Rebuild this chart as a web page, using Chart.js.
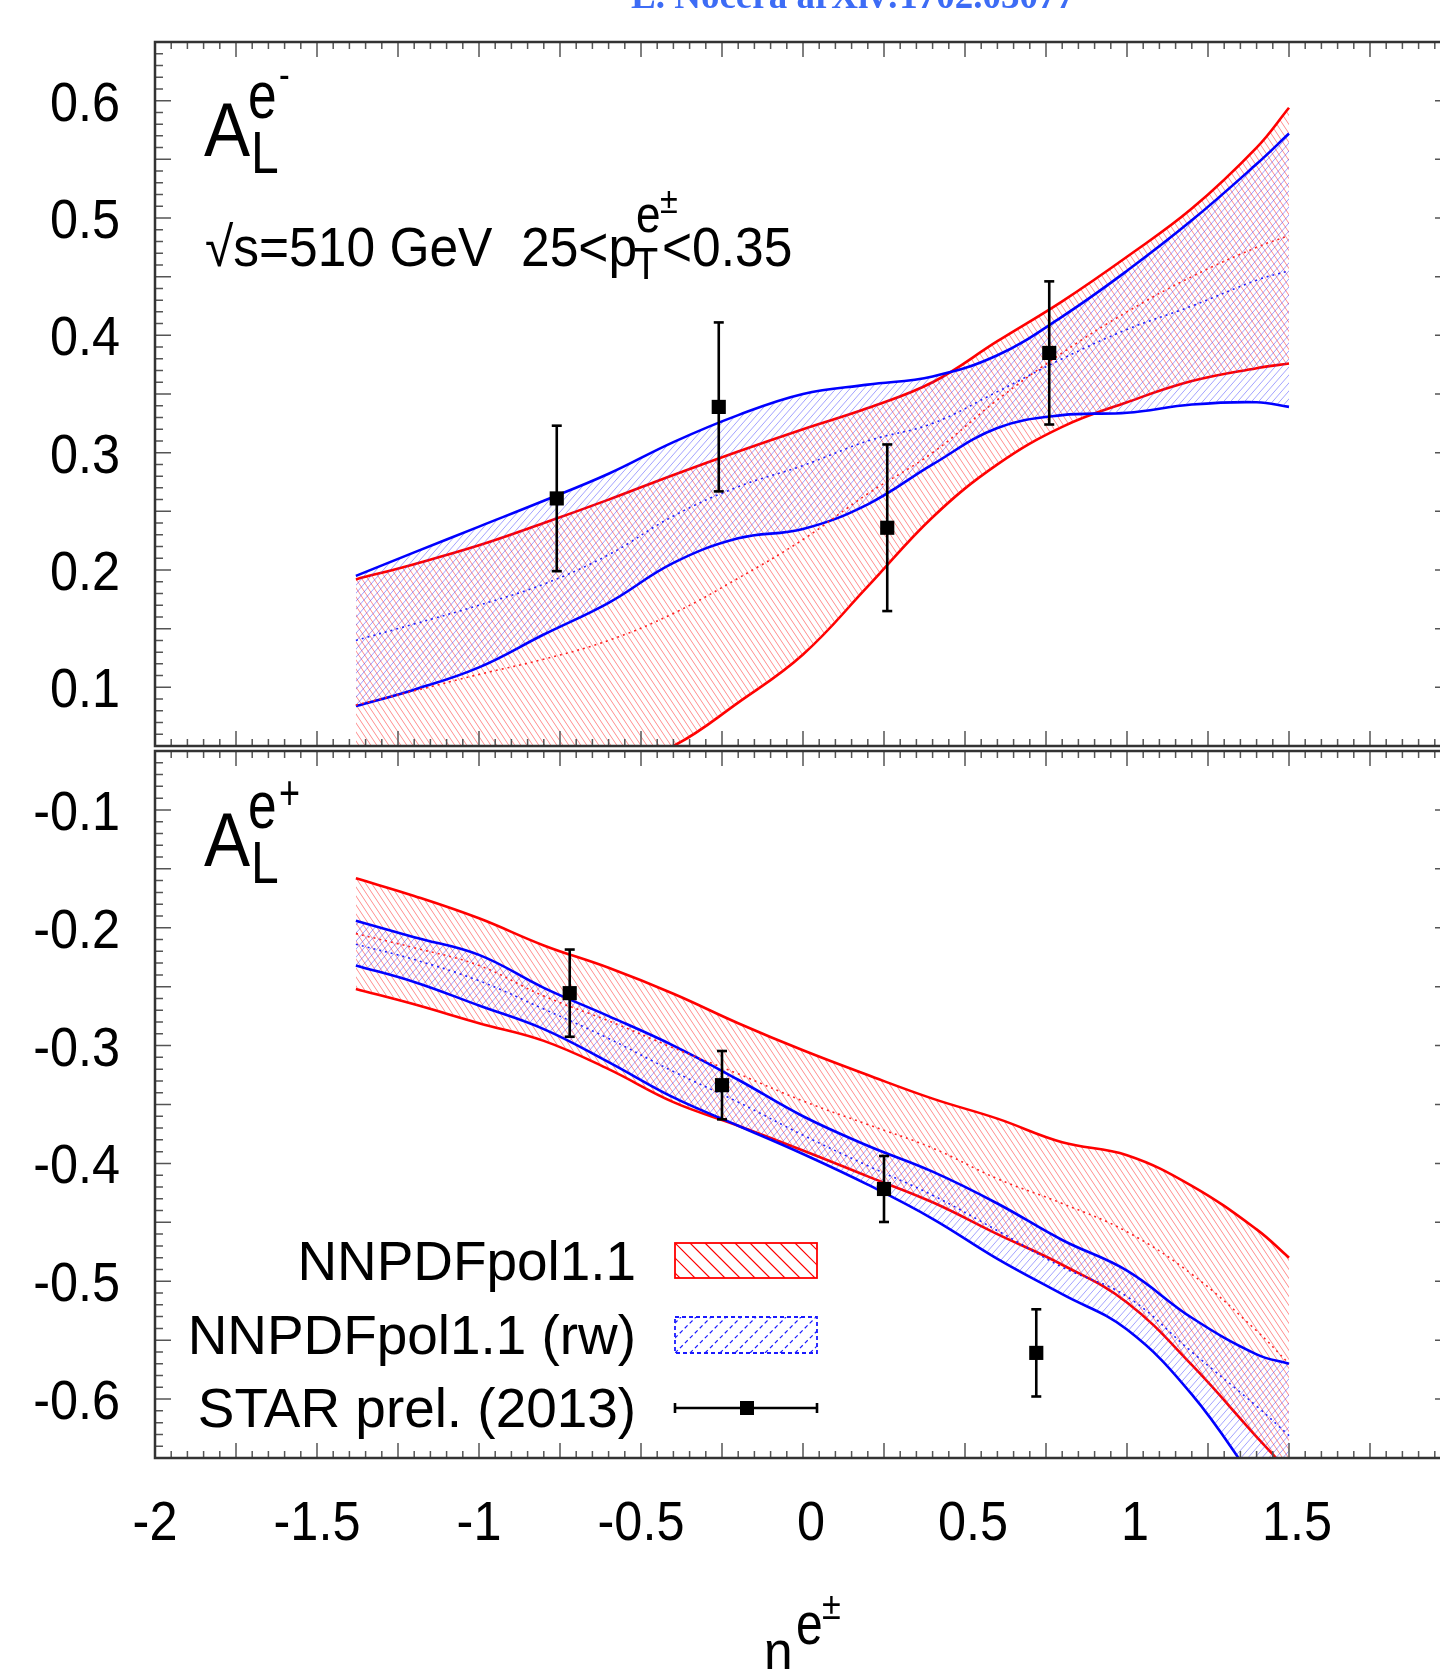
<!DOCTYPE html>
<html>
<head>
<meta charset="utf-8">
<script src="https://cdn.jsdelivr.net/npm/chart.js@4.4.1/dist/chart.umd.min.js"></script>
<style>
  html, body { margin: 0; padding: 0; background: #fff; overflow: hidden; }
  #wrap { position: relative; width: 1440px; height: 1669px; overflow: hidden; background: #fff; }
  canvas { position: absolute; left: 0; }
  .t { position: absolute; white-space: pre; line-height: 1; font-family: "Liberation Sans", Arial, sans-serif; color: #000; }
</style>
</head>
<body>
<div id="wrap">
  <canvas id="topChart" width="1470" height="760" style="top:0"></canvas>
  <canvas id="botChart" width="1470" height="929" style="top:740px"></canvas>
</div>
<script>
// eta grid the bands were read at
const eta = [-1.38, -1.2, -1.0, -0.8, -0.6, -0.4, -0.2, 0, 0.2, 0.4, 0.6, 0.8, 1.0, 1.2, 1.4, 1.5];

// A_L^{e-}
const redUpTop   = [0.192, 0.205, 0.221, 0.240, 0.260, 0.281, 0.301, 0.320, 0.338, 0.360, 0.395, 0.429, 0.467, 0.508, 0.560, 0.594];
const redLoTop   = [-0.020, -0.015, -0.005, 0.012, 0.030, 0.050, 0.087, 0.128, 0.186, 0.245, 0.290, 0.322, 0.343, 0.361, 0.372, 0.376];
const redMidTop  = [0.085, 0.097, 0.111, 0.124, 0.140, 0.163, 0.193, 0.226, 0.265, 0.300, 0.345, 0.385, 0.420, 0.450, 0.475, 0.485];
const blueUpTop  = [0.195, 0.215, 0.237, 0.259, 0.282, 0.309, 0.332, 0.350, 0.358, 0.365, 0.383, 0.416, 0.455, 0.498, 0.546, 0.572];
const blueLoTop  = [0.084, 0.098, 0.117, 0.145, 0.172, 0.206, 0.227, 0.235, 0.256, 0.290, 0.321, 0.332, 0.334, 0.341, 0.343, 0.339];
const blueMidTop = [0.140, 0.154, 0.170, 0.188, 0.213, 0.246, 0.271, 0.289, 0.310, 0.325, 0.352, 0.380, 0.405, 0.425, 0.447, 0.455];

// A_L^{e+}
const redUpBot   = [-0.158, -0.173, -0.192, -0.215, -0.234, -0.256, -0.281, -0.304, -0.325, -0.345, -0.362, -0.382, -0.393, -0.419, -0.456, -0.480];
const redLoBot   = [-0.252, -0.265, -0.281, -0.296, -0.320, -0.348, -0.368, -0.389, -0.411, -0.433, -0.460, -0.486, -0.518, -0.571, -0.632, -0.662];
const redMidBot  = [-0.205, -0.217, -0.232, -0.258, -0.279, -0.302, -0.324, -0.347, -0.367, -0.387, -0.413, -0.434, -0.458, -0.494, -0.542, -0.570];
const blueUpBot  = [-0.194, -0.208, -0.223, -0.251, -0.275, -0.300, -0.329, -0.360, -0.385, -0.407, -0.434, -0.465, -0.491, -0.531, -0.562, -0.570];
const blueLoBot  = [-0.232, -0.246, -0.266, -0.286, -0.314, -0.344, -0.368, -0.392, -0.418, -0.447, -0.481, -0.511, -0.541, -0.596, -0.672, -0.710];
const blueMidBot = [-0.214, -0.227, -0.245, -0.269, -0.294, -0.322, -0.348, -0.376, -0.402, -0.427, -0.457, -0.488, -0.513, -0.560, -0.606, -0.631];

// STAR prel. (2013)
const starEtaTop = [-0.76, -0.26, 0.26, 0.76];
const starValTop = [0.261, 0.339, 0.236, 0.385];
const starErrTop = [0.062, 0.072, 0.071, 0.061];
const starEtaBot = [-0.72, -0.25, 0.25, 0.72];
const starValBot = [-0.2555, -0.3336, -0.4217, -0.5608];
const starErrBot = [0.037, 0.029, 0.028, 0.037];

// tick labels
const xTicks = [-2, -1.5, -1, -0.5, 0, 0.5, 1, 1.5];
const yTicksTop = [0.1, 0.2, 0.3, 0.4, 0.5, 0.6];
const yTicksBot = [-0.6, -0.5, -0.4, -0.3, -0.2, -0.1];

const FONT = '"Liberation Sans", Arial, sans-serif';
const wrap = document.getElementById('wrap');

function hatch(color, w, h, dir, lw) {
  const c = document.createElement('canvas');
  c.width = w; c.height = h;
  const g = c.getContext('2d');
  g.strokeStyle = color; g.lineWidth = lw;
  g.beginPath();
  for (let k = -1; k <= 1; k++) {
    if (dir > 0) { g.moveTo(k * w, 0); g.lineTo(k * w + w, h); }
    else { g.moveTo(k * w, h); g.lineTo(k * w + w, 0); }
  }
  g.stroke();
  return g.createPattern(c, 'repeat');
}
const redHatch = hatch('rgba(255,50,50,0.55)', 6, 9, 1, 1);
const blueHatch = hatch('rgba(50,50,255,0.45)', 7, 8, -1, 1);

const pts = (ys) => eta.map((x, i) => ({ x: x, y: ys[i] }));

function errData(xs, ys, es) {
  const d = [];
  xs.forEach((x, i) => {
    d.push({ x: x, y: ys[i] - es[i] }, { x: x, y: ys[i] + es[i] }, { x: x, y: null });
  });
  return d;
}

function datasets(ru, rl, rm, bu, bl, bm, sx, sy, se) {
  const edge = { borderWidth: 2.6, pointRadius: 0, tension: 0.4 };
  return [
    { ...edge, data: pts(ru), borderColor: '#ff0000', fill: '+1', backgroundColor: redHatch, order: 5 },
    { ...edge, data: pts(rl), borderColor: '#ff0000', fill: false, order: 5 },
    { ...edge, data: pts(bu), borderColor: '#0000ff', fill: '+1', backgroundColor: blueHatch, order: 4 },
    { ...edge, data: pts(bl), borderColor: '#0000ff', fill: false, order: 4 },
    { ...edge, data: pts(rm), borderColor: '#ff2020', borderWidth: 1.6, borderDash: [2, 4], fill: false, order: 3 },
    { ...edge, data: pts(bm), borderColor: '#2020ff', borderWidth: 1.6, borderDash: [2, 4], fill: false, order: 3 },
    { data: errData(sx, sy, se), showLine: true, spanGaps: false, borderColor: '#000', borderWidth: 2.6,
      pointStyle: 'line', pointRadius: 5, pointBorderWidth: 2.6, pointBorderColor: '#000', fill: false, tension: 0, order: 1 },
    { data: sx.map((x, i) => ({ x: x, y: sy[i] })), showLine: false, pointStyle: 'rect', pointRadius: 10,
      backgroundColor: '#000', borderColor: '#000', borderWidth: 0, order: 0 }
  ];
}

function fmt(v) { return String(Math.round(v * 100) / 100); }

// frame, inward ticks and tick labels
const framePlugin = {
  id: 'frame',
  afterDraw(chart, args, opts) {
    const { ctx, chartArea: a, scales: { x, y } } = chart;
    ctx.save();
    ctx.strokeStyle = '#555';
    ctx.lineWidth = 1.5;
    ctx.beginPath();
    for (let i = -40; i <= 40; i++) {
      const px = x.getPixelForValue(i * 0.05);
      const len = (i % 5 === 0) ? 15 : 7;
      ctx.moveTo(px, a.bottom); ctx.lineTo(px, a.bottom - len);
      ctx.moveTo(px, a.top); ctx.lineTo(px, a.top + len);
    }
    const i0 = Math.round(y.min * 100), i1 = Math.round(y.max * 100);
    for (let i = i0; i <= i1; i++) {
      const py = y.getPixelForValue(i / 100);
      const len = (i % 5 === 0) ? 16 : 8;
      ctx.moveTo(a.left, py); ctx.lineTo(a.left + len, py);
      ctx.moveTo(a.right, py); ctx.lineTo(a.right - len, py);
    }
    ctx.stroke();
    ctx.strokeStyle = '#333';
    ctx.lineWidth = 2.5;
    ctx.strokeRect(a.left, a.top, a.right - a.left, a.bottom - a.top);

    ctx.fillStyle = '#000';
    ctx.font = '56px ' + FONT;
    ctx.textBaseline = 'alphabetic';
    ctx.textAlign = 'right';
    opts.yTicks.forEach(v => {
      ctx.save();
      ctx.translate(a.left - 35, y.getPixelForValue(v) + 20);
      ctx.scale(0.9, 1);
      ctx.fillText(fmt(v), 0, 0);
      ctx.restore();
    });
    if (opts.xTicks) {
      ctx.textAlign = 'center';
      opts.xTicks.forEach(v => {
        // unsigned labels sit half a minus sign to the right
        const shift = v >= 0 ? 8 : 0;
        ctx.save();
        ctx.translate(x.getPixelForValue(v) + shift, a.bottom + 82);
        ctx.scale(0.9, 1);
        ctx.fillText(fmt(v), 0, 0);
        ctx.restore();
      });
    }
    ctx.restore();
  }
};

// legend swatches (bottom panel)
const legendPlugin = {
  id: 'swatches',
  afterDraw(chart, args, opts) {
    if (!opts.show) return;
    const ctx = chart.ctx;
    const off = 740, x0 = 675, x1 = 817;
    function box(y0, y1, color, dash, dir) {
      ctx.save();
      ctx.beginPath(); ctx.rect(x0, y0 - off, x1 - x0, y1 - y0); ctx.clip();
      ctx.strokeStyle = color; ctx.lineWidth = 1.2; ctx.setLineDash(dash);
      ctx.beginPath();
      for (let k = -60; k < 200; k += 15) {
        if (dir > 0) { ctx.moveTo(x0 + k, y0 - off); ctx.lineTo(x0 + k + (y1 - y0), y1 - off); }
        else { ctx.moveTo(x0 + k, y1 - off); ctx.lineTo(x0 + k + (y1 - y0), y0 - off); }
      }
      ctx.stroke();
      ctx.restore();
      ctx.save();
      ctx.strokeStyle = color; ctx.lineWidth = 1.8; ctx.setLineDash(dash);
      ctx.strokeRect(x0, y0 - off, x1 - x0, y1 - y0);
      ctx.restore();
    }
    box(1243, 1278, '#ff0000', [], 1);
    box(1317, 1353, '#1a1aff', [4, 3], -1);
    const yl = 1408 - off;
    ctx.save();
    ctx.strokeStyle = '#000'; ctx.lineWidth = 2.6;
    ctx.beginPath();
    ctx.moveTo(x0, yl); ctx.lineTo(x1, yl);
    ctx.moveTo(x0, yl - 5); ctx.lineTo(x0, yl + 5);
    ctx.moveTo(x1, yl - 5); ctx.lineTo(x1, yl + 5);
    ctx.stroke();
    ctx.fillStyle = '#000';
    ctx.fillRect(747 - 7, yl - 7, 14, 14);
    ctx.restore();
  }
};

function makeChart(id, ds, yMin, yMax, pad, frameOpts, legendShow) {
  return new Chart(document.getElementById(id).getContext('2d'), {
    type: 'line',
    data: { datasets: ds },
    options: {
      responsive: false,
      animation: false,
      layout: { padding: pad },
      plugins: { legend: { display: false }, tooltip: { enabled: false },
        frame: frameOpts, swatches: { show: legendShow } },
      scales: {
        x: { type: 'linear', min: -2, max: 2, display: false, ticks: { stepSize: 0.5 } },
        y: { type: 'linear', min: yMin, max: yMax, display: false, ticks: { stepSize: 0.1 } }
      }
    },
    plugins: [framePlugin, legendPlugin]
  });
}

makeChart('topChart',
  datasets(redUpTop, redLoTop, redMidTop, blueUpTop, blueLoTop, blueMidTop, starEtaTop, starValTop, starErrTop),
  0.05, 0.65, { left: 155, right: 19, top: 42, bottom: 14 }, { yTicks: yTicksTop }, false);

makeChart('botChart',
  datasets(redUpBot, redLoBot, redMidBot, blueUpBot, blueLoBot, blueMidBot, starEtaBot, starValBot, starErrBot),
  -0.65, -0.05, { left: 155, right: 19, top: 11, bottom: 211 }, { yTicks: yTicksBot, xTicks: xTicks }, true);

// text labels
function txt(s, x, base, size, align, sx, extra) {
  const d = document.createElement('div');
  d.className = 't';
  d.textContent = s;
  d.style.fontSize = size + 'px';
  d.style.left = x + 'px';
  d.style.top = (base - 0.8465 * size) + 'px';
  sx = sx || 1;
  if (align === 'right') { d.style.transformOrigin = '100% 50%'; d.style.transform = 'translateX(-100%) scaleX(' + sx + ')'; }
  else if (align === 'center') { d.style.transformOrigin = '50% 50%'; d.style.transform = 'translateX(-50%) scaleX(' + sx + ')'; }
  else { d.style.transformOrigin = '0 50%'; d.style.transform = 'scaleX(' + sx + ')'; }
  if (extra) Object.assign(d.style, extra);
  wrap.appendChild(d);
}

txt('L. Nocera arXiv:1702.03077', 631, 8, 37, 'left', 1,
  { fontFamily: '"Liberation Serif", "DejaVu Serif", serif', color: '#3d6cf5', fontWeight: 'bold' });

// A_L^{e-}
txt('A', 204, 156, 76, 'left', 0.91);
txt('e', 248, 118, 66, 'left', 0.78);
txt('-', 279, 88, 40, 'left', 0.8);
txt('L', 251, 174, 60, 'left', 0.83);

// A_L^{e+}
txt('A', 204, 866, 76, 'left', 0.91);
txt('e', 248, 828, 66, 'left', 0.78);
txt('+', 279, 810, 48, 'left', 0.75);
txt('L', 251, 884, 60, 'left', 0.83);

// sqrt(s) line
txt('\u221As=510 GeV', 205, 266, 56, 'left', 0.92);
txt('25<p', 521, 266, 56, 'left', 0.92);
txt('T', 634, 279, 44, 'left', 0.9);
txt('e', 636, 232, 52, 'left', 0.85);
txt('\u00B1', 660, 213, 36, 'left', 0.9);
txt('<0.35', 662, 266, 56, 'left', 0.92);

// legend text
txt('NNPDFpol1.1', 636, 1280, 56, 'right', 0.98);
txt('NNPDFpol1.1 (rw)', 636, 1354, 56, 'right', 0.98);
txt('STAR prel. (2013)', 636, 1427, 56, 'right', 0.98);

// x axis title
txt('\u03B7', 764, 1670, 56, 'left', 0.92);
txt('e', 796, 1645, 60, 'left', 0.8);
txt('\u00B1', 822, 1619, 38, 'left', 0.9);
</script>
</body>
</html>
